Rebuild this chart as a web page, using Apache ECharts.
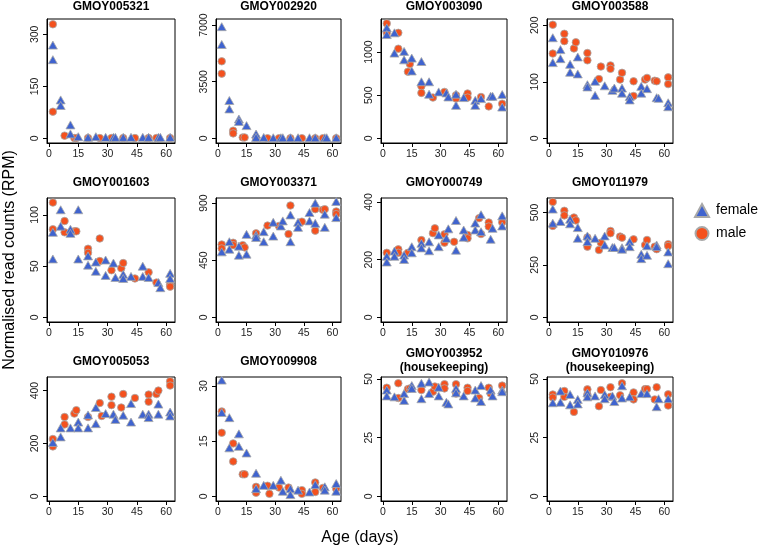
<!DOCTYPE html>
<html><head><meta charset="utf-8">
<script src="https://cdn.jsdelivr.net/npm/echarts@6/dist/echarts.min.js"></script>
<style>html,body{margin:0;padding:0;background:#fff}#c{width:758px;height:549px}</style>
</head><body><div id="c"></div>
<script>
// ---------- data ----------
const genes = ['GMOY005321','GMOY002920','GMOY003090','GMOY003588',
               'GMOY001603','GMOY003371','GMOY000749','GMOY011979',
               'GMOY005053','GMOY009908','GMOY003952','GMOY010976'];
const subtitles = ['','','','','','','','','','','(housekeeping)','(housekeeping)'];
const xTicks = [0,15,30,45,60];
const yTicks = [[0,150,300],[0,3500,7000],[0,500,1000],[0,100,200],
                [0,50,100],[0,450,900],[0,200,400],[0,250,500],
                [0,200,400],[0,15,30],[0,25,50],[0,25,50]];
const yLimits = [331,7090,1330,203,112,904,398,547,434,31.2,48.9,48.9];

const f005321 = [[2,269],[2,227],[6,111],[6,95],[11,39],[11,13],[15,5],[20,3],[24,5],[29,3],[33,3],[34,3],[38,3],[42,3],[48,3],[51,3],[56,3],[57,3],[62,3]];
const m005321 = [[2,329],[2,77],[8,8],[13,1],[14,1],[20,1],[26,1],[32,1],[38,1],[44,1],[51,1],[55,1],[62,1]];

const f002920 = [[2,6900],[2,5800],[6,2340],[6,1820],[11,1200],[11,1050],[15,790],[20,270],[20,60],[24,60],[29,40],[33,40],[34,40],[38,40],[42,40],[48,40],[51,40],[56,40],[57,40],[62,40]];
const m002920 = [[2,4760],[2,4000],[8,480],[8,310],[13,60],[14,60],[20,20],[26,10],[32,10],[38,10],[44,10],[51,10],[55,10],[62,10]];

const f003090 = [[2,1281],[2,1203],[6,1223],[6,988],[11,1008],[11,910],[15,930],[15,781],[20,891],[20,656],[24,656],[24,512],[29,539],[33,527],[34,480],[38,512],[38,383],[42,473],[48,441],[48,383],[51,461],[56,488],[57,488],[62,508],[62,363]];
const m003090 = [[2,1332],[2,1223],[8,1223],[8,1039],[13,773],[14,863],[20,605],[20,527],[26,473],[32,539],[38,500],[38,461],[44,520],[44,473],[51,480],[55,371],[62,402]];

const f003588 = [[2,178],[2,134],[6,157],[6,141],[11,131],[11,117],[15,144],[15,114],[20,95],[20,91],[24,101],[24,76],[29,93],[33,85],[34,89],[38,89],[38,80],[42,74],[42,68],[48,92],[48,80],[51,88],[56,72],[57,71],[62,63],[62,56]];
const m003588 = [[2,201],[2,150],[8,185],[8,172],[13,159],[14,170],[20,151],[20,138],[26,105],[27,127],[32,129],[32,123],[37,104],[38,116],[44,101],[44,75],[50,104],[51,107],[55,102],[56,101],[62,108],[62,96]];

const f001603 = [[2,83],[2,57],[6,105],[6,89],[11,86],[11,82],[15,105],[15,57],[20,60],[20,51],[24,54],[24,45],[29,56],[29,41],[33,53],[34,39],[38,42],[38,38],[42,40],[48,50],[48,40],[51,39],[56,34],[57,29],[62,43],[62,38]];
const m001603 = [[2,112],[2,86],[8,94],[8,83],[13,84],[14,84],[20,67],[20,63],[26,77],[26,55],[32,46],[37,48],[38,53],[44,38],[51,44],[55,34],[62,32],[62,30]];

const f003371 = [[2,516],[6,596],[6,537],[11,561],[11,490],[15,654],[15,498],[20,648],[20,630],[24,675],[24,596],[29,749],[29,640],[33,720],[34,760],[38,807],[38,596],[42,749],[42,709],[48,826],[48,760],[51,900],[51,741],[56,813],[56,709],[62,913],[62,786]];
const m003371 = [[2,574],[2,543],[8,588],[8,569],[13,569],[14,551],[20,662],[26,723],[32,720],[37,656],[38,881],[44,754],[51,852],[51,683],[55,847],[56,852],[62,834],[62,813]];

const f000749 = [[2,212],[2,192],[6,230],[6,212],[11,216],[11,201],[15,245],[15,224],[20,257],[20,241],[24,262],[24,231],[29,286],[29,245],[33,274],[34,307],[38,336],[38,233],[42,303],[42,278],[48,327],[48,303],[51,356],[51,297],[56,271],[57,309],[62,352],[62,317]];
const m000749 = [[2,224],[8,236],[8,224],[13,224],[20,268],[26,292],[27,309],[32,288],[32,259],[37,262],[44,286],[44,274],[50,344],[51,289],[55,329],[55,315],[62,330]];

const f011979 = [[2,516],[2,449],[6,457],[11,468],[11,446],[15,428],[15,377],[20,388],[20,361],[24,377],[29,388],[29,345],[33,333],[34,333],[38,332],[38,325],[42,361],[42,337],[48,301],[48,280],[51,341],[51,296],[56,345],[56,337],[62,312],[62,256]];
const m011979 = [[2,550],[2,436],[8,508],[8,486],[13,476],[14,462],[20,381],[20,337],[26,321],[27,356],[32,412],[32,401],[37,385],[38,380],[44,372],[50,345],[51,369],[55,337],[56,325],[62,349],[62,340]];

const f005053 = [[2,204],[6,259],[6,225],[11,259],[15,281],[15,259],[20,308],[20,259],[24,336],[24,275],[29,313],[33,311],[34,291],[38,307],[42,351],[42,281],[48,311],[51,311],[51,298],[56,349],[56,311],[62,319],[62,304]];
const m005053 = [[2,217],[2,189],[8,300],[8,272],[13,313],[14,326],[20,300],[26,353],[27,304],[32,377],[32,345],[37,336],[38,387],[44,372],[51,385],[51,358],[55,387],[56,400],[62,435],[62,419]];

const f009908 = [[2,31.6],[2,22.8],[6,21.4],[6,13.2],[11,17],[11,13.6],[15,11.8],[20,6.3],[20,2.1],[24,3.0],[29,3.0],[33,4.4],[34,1.4],[38,2.1],[38,0.5],[42,1.7],[48,1.2],[51,3.2],[56,2.6],[56,1.7],[62,3.5],[62,1.4]];
const m009908 = [[2,23.1],[2,17.3],[8,14.4],[8,9.5],[13,6.0],[14,6.0],[20,2.6],[20,1.0],[26,2.9],[27,0.7],[32,2.4],[37,2.4],[44,1.7],[44,0.7],[51,1.2],[51,3.8],[55,2.3],[62,2.1]];

const f003952 = [[2,45.3],[2,42.8],[6,42.4],[11,43.8],[11,40.9],[15,47.2],[15,46.0],[20,48.2],[20,41.6],[24,48.7],[24,43.8],[29,46.5],[29,42.8],[33,40.1],[34,39.4],[38,46.0],[38,44.1],[42,42.8],[48,45.3],[48,41.9],[51,47.2],[51,40.4],[56,45.3],[57,42.8],[62,45.3],[62,44.6]];
const m003952 = [[2,46.3],[8,48.2],[8,41.9],[13,45.7],[14,46.0],[20,45.3],[26,44.6],[27,46.8],[32,47.8],[32,46.0],[38,47.8],[38,43.8],[44,46.3],[44,44.9],[50,41.9],[55,46.3],[56,43.8],[62,47.2]];

const f010976 = [[2,39.9],[6,44.9],[6,40.1],[11,43.4],[11,39.0],[15,41.3],[15,39.4],[20,44.1],[20,42.4],[24,42.8],[29,43.4],[29,41.6],[33,42.8],[34,40.4],[38,47.1],[38,41.9],[42,42.4],[48,43.8],[51,43.8],[56,38.2],[57,41.6],[62,41.6]];
const m010976 = [[2,43.4],[2,42.1],[8,44.9],[8,42.4],[13,36.0],[20,45.6],[20,43.4],[26,38.4],[27,45.3],[32,46.5],[32,42.4],[37,43.1],[38,48.2],[44,44.3],[44,41.3],[50,45.7],[51,45.7],[55,41.3],[56,46.5],[62,43.5],[62,38.7]];

const femaleData = [f005321,f002920,f003090,f003588,f001603,f003371,f000749,f011979,f005053,f009908,f003952,f010976];
const maleData   = [m005321,m002920,m003090,m003588,m001603,m003371,m000749,m011979,m005053,m009908,m003952,m010976];

// ---------- layout / style ----------
const FONT = '"Liberation Sans", Arial, Helvetica, sans-serif';
const colL = [47, 216, 381, 547];
const colW = [128, 125, 126, 126];
const rowT = [19, 198, 377];
const rowH = 124;
const titleY = [6.5, 183, 361.5];
const FEMALE = '#3F63CF', MALE = '#F4511E', EDGE = '#a8a8a8';
const plain = v => String(v);

const grids = [], xAxes = [], yAxes = [], series = [], graphics = [];
for (let i = 0; i < 12; i++) {
  const r = Math.floor(i / 4), c = i % 4;
  grids.push({left: colL[c], top: rowT[r], width: colW[c], height: rowH,
              show: true, borderColor: '#000', borderWidth: 1, containLabel: false});
  xAxes.push({gridIndex: i, type: 'value', min: -1, max: 64.5,
    axisLine: {show: true, onZero: false, lineStyle: {color: '#000', width: 1}},
    axisTick: {show: true, length: 4, customValues: xTicks, lineStyle: {color: '#000', width: 1}},
    axisLabel: {customValues: xTicks, formatter: plain, fontSize: 10.5, color: '#222', fontFamily: FONT, margin: 6},
    splitLine: {show: false}});
  const L = yLimits[i];
  yAxes.push({gridIndex: i, type: 'value', min: -0.04 * L, max: 1.04 * L,
    axisLine: {show: true, onZero: false, lineStyle: {color: '#000', width: 1}},
    axisTick: {show: true, length: 4, customValues: yTicks[i], lineStyle: {color: '#000', width: 1}},
    axisLabel: {customValues: yTicks[i], formatter: plain, rotate: 90, fontSize: 10.5, color: '#222', fontFamily: FONT, margin: 6},
    splitLine: {show: false}});
  series.push({name: 'male', type: 'scatter', xAxisIndex: i, yAxisIndex: i,
    data: maleData[i], symbol: 'circle', symbolSize: 7.5,
    itemStyle: {color: MALE, borderColor: EDGE, borderWidth: 0.8, opacity: 1}});
  series.push({name: 'female', type: 'scatter', xAxisIndex: i, yAxisIndex: i,
    data: femaleData[i], symbol: 'triangle', symbolSize: [9, 8],
    itemStyle: {color: FEMALE, borderColor: EDGE, borderWidth: 0.8, opacity: 1}});
  const cx = colL[c] + colW[c] / 2;
  const tstyle = (text) => ({text: text, font: 'bold 12px ' + FONT, fill: '#000',
    textAlign: 'center', textVerticalAlign: 'middle', align: 'center', verticalAlign: 'middle'});
  if (subtitles[i]) {
    graphics.push({type: 'text', x: cx, y: 354, style: tstyle(genes[i])});
    graphics.push({type: 'text', x: cx, y: 367.5, style: tstyle(subtitles[i])});
  } else {
    graphics.push({type: 'text', x: cx, y: titleY[r], style: tstyle(genes[i])});
  }
}
graphics.push({type: 'text', x: 360, y: 538, style: {text: 'Age (days)', font: '16px ' + FONT,
  fill: '#000', textAlign: 'center', textVerticalAlign: 'middle', align: 'center', verticalAlign: 'middle'}});
graphics.push({type: 'text', x: 10, y: 260, rotation: Math.PI / 2, style: {text: 'Normalised read counts (RPM)', font: '16px ' + FONT,
  fill: '#000', textAlign: 'center', textVerticalAlign: 'middle', align: 'center', verticalAlign: 'middle'}});

const chart = echarts.init(document.getElementById('c'), null, {renderer: 'canvas'});
chart.setOption({
  animation: false,
  backgroundColor: '#fff',
  grid: grids, xAxis: xAxes, yAxis: yAxes, series: series,
  legend: {data: ['female', 'male'], orient: 'vertical', left: 694, top: 203, padding: 0,
    itemWidth: 14, itemHeight: 13, itemGap: 8,
    textStyle: {fontSize: 14, fontFamily: FONT, color: '#000', padding: [0, 0, 0, 2], overflow: 'none'}},
  graphic: graphics
});
</script>
</body></html>
